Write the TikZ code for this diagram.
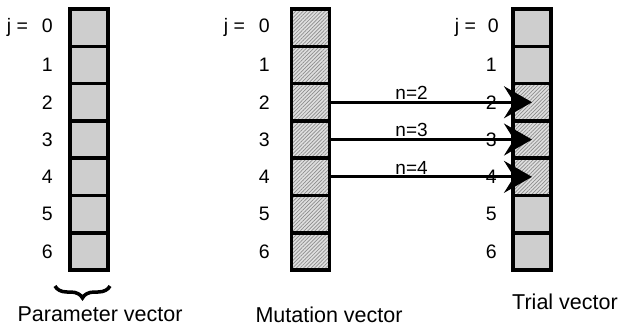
\documentclass[tikz,border=0pt]{standalone}
\usepackage{fontspec}
\setmainfont{Liberation Sans}
\usetikzlibrary{patterns.meta,arrows.meta,decorations.pathreplacing}
\begin{document}
\begin{tikzpicture}[x=1pt,y=-1pt,
 cell/.style={draw, line width=3.5pt, minimum width=38pt, minimum height=37.3pt, inner sep=0pt},
 dotcell/.style={cell, preaction={fill=gray!25}, pattern={Dots[distance=2pt,radius=0.6pt]}, pattern color=gray!80},
 hatchcell/.style={cell, preaction={fill=gray!25}, pattern={Lines[angle=45,distance=2.6pt,line width=0.7pt]}, pattern color=gray!90},
 idx/.style={anchor=east, inner sep=0pt, font=\fontsize{19.5}{21}\selectfont},
 captxt/.style={font=\fontsize{21.5}{24}\selectfont, inner sep=0pt},
 nlab/.style={anchor=south, inner sep=1pt, font=\fontsize{19}{21}\selectfont},
 arr/.style={line width=3pt, -{Stealth[length=28pt,width=32pt,inset=10pt]}}]
\useasboundingbox (0,0) rectangle (621,329);
% cells
\foreach \i in {0,...,6} {
  \node[dotcell] (p\i) at (89, 27.65+37.3*\i) {};
  \node[hatchcell] (m\i) at (310.5, 27.65+37.3*\i) {};
}
\foreach \i in {0,1,5,6} {
  \node[dotcell] (t\i) at (532, 27.65+37.3*\i) {};
}
\foreach \i in {2,3,4} {
  \node[hatchcell] (t\i) at (532, 27.65+37.3*\i) {};
}
% index labels
\node[idx] (pl0) at (53, 27.65) {j =\hspace{14pt}0};
\node[idx] (ml0) at (270, 27.65) {j =\hspace{14pt}0};
\node[idx] (tl0) at (499, 27.65) {j =\hspace{12pt}0};
\foreach \i in {1,...,6} {
  \node[idx] (pl\i) at (53, 27.65+37.3*\i) {\i};
  \node[idx] (ml\i) at (270, 27.65+37.3*\i) {\i};
  \node[idx] (tl\i) at (497, 27.65+37.3*\i) {\i};
}
% arrows
\draw[arr] (m2.east) -- node[nlab, pos=0.4] (n2) {n=2} (m2.east -| t2.center);
\draw[arr] (m3.east) -- node[nlab, pos=0.4] (n3) {n=3} (m3.east -| t3.center);
\draw[arr] (m4.east) -- node[nlab, pos=0.4] (n4) {n=4} (m4.east -| t4.center);
% brace
\coordinate (b1) at (55,286);
\coordinate (b2) at (110,286);
\draw[decorate, decoration={brace, mirror, amplitude=12pt}, line width=3.5pt] (b1) -- (b2);
% captions
\node[captxt] (pc) at (100,314) {Parameter vector};
\node[captxt] (mc) at (329,315) {Mutation vector};
\node[captxt] (tc) at (565,302) {Trial vector};
\end{tikzpicture}
\end{document}
